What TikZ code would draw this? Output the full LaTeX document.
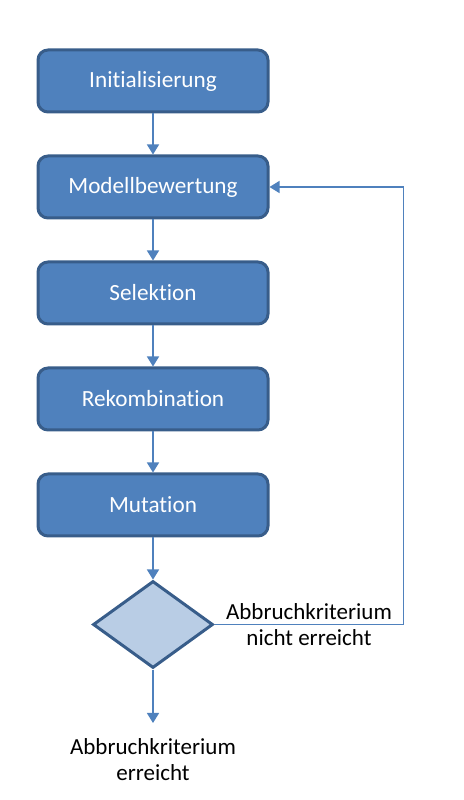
\documentclass[tikz,border=0pt]{standalone}
\usepackage{fontspec}
\setmainfont{Carlito}[Ligatures=NoCommon]
\usetikzlibrary{arrows.meta,positioning,shapes.geometric}
\definecolor{boxfill}{HTML}{4F81BD}
\definecolor{boxline}{HTML}{385D8A}
\definecolor{decfill}{HTML}{B9CDE5}
\tikzset{
  stepbox/.style={rectangle, rounded corners=5pt, draw=boxline, line width=1.5pt,
    fill=boxfill, text=white, minimum width=115pt, minimum height=31pt,
    font=\fontsize{11.6}{13}\selectfont},
  decision/.style={diamond, draw=boxline, line width=1.5pt, fill=decfill,
    minimum width=60pt, minimum height=43.5pt, inner sep=0pt},
  flow/.style={-{Triangle[length=5pt, width=6pt]}, draw=boxfill, line width=0.8pt},
  label text/.style={align=center, font=\fontsize{11.5}{13}\selectfont},
}

\begin{document}
\begin{tikzpicture}
  \useasboundingbox (0,0) rectangle (232pt,400pt);

  % Steps
  \node[stepbox] (init) at (76.5pt,359.5pt) {Initialisierung};
  \node[stepbox, below=20.5pt of init] (eval) {Modellbewertung};
  \node[stepbox, below=20.5pt of eval] (select) {Selektion};
  \node[stepbox, below=20.5pt of select] (recomb) {Rekombination};
  \node[stepbox, below=20.5pt of recomb] (mut) {Mutation};

  % Decision
  \node[decision, below=21pt of mut] (check) {};
  \coordinate (stop) at (76.5pt,38.5pt);
  \node[label text] (endlabel) at (76.5pt,20pt) {Abbruchkriterium\\erreicht};

  % Connectors
  \draw[flow] (init) -- (eval);
  \draw[flow] (eval) -- (select);
  \draw[flow] (select) -- (recomb);
  \draw[flow] (recomb) -- (mut);
  \draw[flow] (mut) -- (check);
  \draw[flow] (check) -- (stop);
  \draw[flow] (check.east) -- node[label text] {Abbruchkriterium\\nicht erreicht}
    ++(94.5pt,0) |- (eval.east);
\end{tikzpicture}
\end{document}
